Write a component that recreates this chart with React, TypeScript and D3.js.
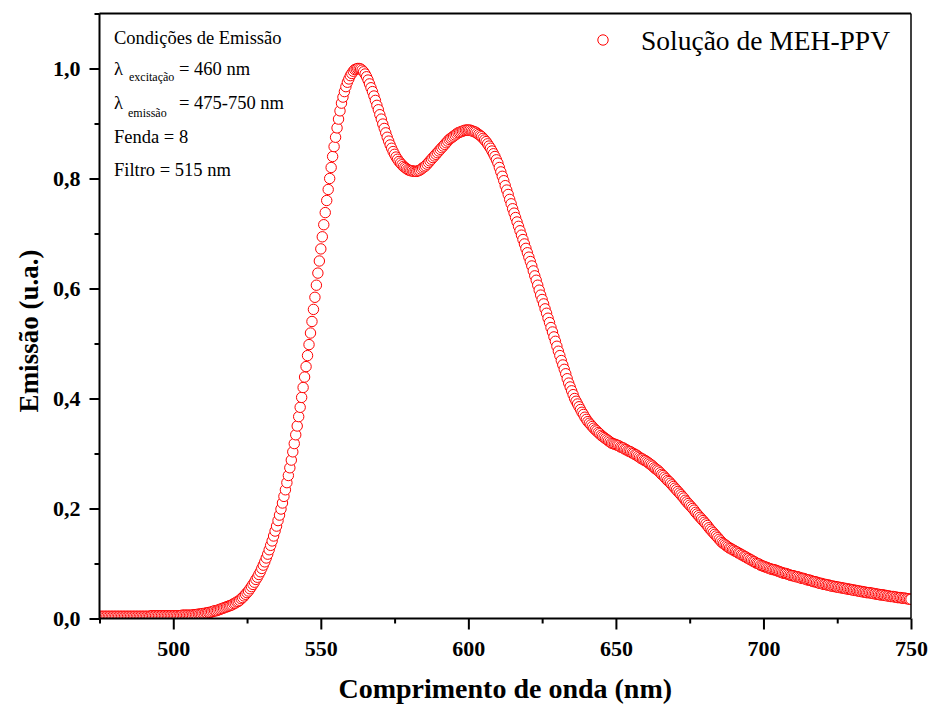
import React, { useEffect, useRef } from 'react';
import * as d3 from 'd3';

// espectro de emissão, 475-750 nm a cada 0,5 nm
const startNm = 475;
const stepNm = 0.5;
const emission = [
  0.004, 0.004, 0.004, 0.004, 0.004, 0.004, 0.004, 0.004, 0.004, 0.004,
  0.004, 0.004, 0.004, 0.004, 0.004, 0.004, 0.004, 0.004, 0.004, 0.004,
  0.004, 0.004, 0.004, 0.004, 0.004, 0.004, 0.004, 0.004, 0.004, 0.004,
  0.004, 0.004, 0.004, 0.004, 0.004, 0.005, 0.005, 0.005, 0.005, 0.005,
  0.005, 0.005, 0.005, 0.005, 0.005, 0.005, 0.005, 0.005, 0.005, 0.005,
  0.005, 0.005, 0.005, 0.005, 0.005, 0.005, 0.006, 0.006, 0.006, 0.006,
  0.006, 0.006, 0.006, 0.006, 0.007, 0.007, 0.007, 0.008, 0.008, 0.008,
  0.009, 0.009, 0.010, 0.010, 0.011, 0.011, 0.012, 0.013, 0.014, 0.014,
  0.015, 0.016, 0.017, 0.018, 0.019, 0.020, 0.021, 0.022, 0.023, 0.024,
  0.025, 0.027, 0.028, 0.030, 0.031, 0.033, 0.036, 0.038, 0.041, 0.044,
  0.047, 0.050, 0.054, 0.058, 0.062, 0.066, 0.071, 0.075, 0.080, 0.085,
  0.091, 0.097, 0.103, 0.110, 0.117, 0.125, 0.133, 0.141, 0.150, 0.159,
  0.168, 0.178, 0.188, 0.199, 0.210, 0.222, 0.234, 0.247, 0.260, 0.274,
  0.288, 0.303, 0.318, 0.334, 0.350, 0.367, 0.384, 0.402, 0.420, 0.439,
  0.458, 0.478, 0.498, 0.519, 0.540, 0.562, 0.584, 0.606, 0.628, 0.650,
  0.672, 0.694, 0.716, 0.738, 0.760, 0.780, 0.800, 0.820, 0.840, 0.858,
  0.875, 0.892, 0.908, 0.923, 0.937, 0.948, 0.958, 0.967, 0.975, 0.981,
  0.987, 0.991, 0.995, 0.998, 0.999, 1.000, 1.000, 0.999, 0.997, 0.994,
  0.990, 0.985, 0.979, 0.972, 0.965, 0.958, 0.950, 0.942, 0.933, 0.925,
  0.916, 0.908, 0.899, 0.891, 0.883, 0.875, 0.868, 0.861, 0.855, 0.849,
  0.844, 0.839, 0.835, 0.831, 0.828, 0.825, 0.822, 0.820, 0.818, 0.816,
  0.815, 0.814, 0.814, 0.813, 0.813, 0.813, 0.814, 0.815, 0.817, 0.819,
  0.821, 0.823, 0.826, 0.829, 0.832, 0.835, 0.838, 0.841, 0.844, 0.847,
  0.850, 0.853, 0.856, 0.859, 0.862, 0.865, 0.868, 0.871, 0.873, 0.875,
  0.877, 0.879, 0.881, 0.883, 0.884, 0.885, 0.886, 0.887, 0.888, 0.888,
  0.888, 0.888, 0.887, 0.886, 0.885, 0.884, 0.882, 0.880, 0.878, 0.876,
  0.873, 0.870, 0.867, 0.863, 0.859, 0.855, 0.850, 0.845, 0.840, 0.834,
  0.828, 0.820, 0.812, 0.804, 0.796, 0.787, 0.779, 0.771, 0.762, 0.754,
  0.745, 0.737, 0.729, 0.721, 0.713, 0.705, 0.697, 0.689, 0.681, 0.673,
  0.665, 0.657, 0.649, 0.641, 0.632, 0.623, 0.615, 0.606, 0.597, 0.588,
  0.580, 0.572, 0.563, 0.555, 0.546, 0.538, 0.529, 0.521, 0.512, 0.504,
  0.495, 0.486, 0.478, 0.469, 0.461, 0.453, 0.445, 0.436, 0.428, 0.421,
  0.414, 0.407, 0.400, 0.395, 0.390, 0.385, 0.380, 0.375, 0.371, 0.366,
  0.362, 0.358, 0.355, 0.352, 0.349, 0.346, 0.343, 0.341, 0.338, 0.336,
  0.333, 0.331, 0.329, 0.327, 0.325, 0.323, 0.321, 0.319, 0.318, 0.317,
  0.316, 0.315, 0.314, 0.312, 0.311, 0.310, 0.308, 0.307, 0.305, 0.304,
  0.303, 0.301, 0.300, 0.298, 0.297, 0.295, 0.293, 0.291, 0.290, 0.288,
  0.287, 0.285, 0.283, 0.281, 0.279, 0.277, 0.274, 0.272, 0.270, 0.268,
  0.265, 0.262, 0.260, 0.257, 0.254, 0.251, 0.249, 0.246, 0.243, 0.240,
  0.237, 0.234, 0.231, 0.228, 0.225, 0.222, 0.219, 0.215, 0.212, 0.209,
  0.206, 0.203, 0.200, 0.197, 0.193, 0.190, 0.187, 0.184, 0.181, 0.178,
  0.175, 0.172, 0.169, 0.165, 0.162, 0.159, 0.156, 0.153, 0.150, 0.147,
  0.144, 0.141, 0.138, 0.136, 0.134, 0.132, 0.130, 0.128, 0.127, 0.125,
  0.124, 0.122, 0.121, 0.119, 0.118, 0.116, 0.115, 0.113, 0.112, 0.110,
  0.109, 0.107, 0.106, 0.104, 0.103, 0.101, 0.100, 0.099, 0.097, 0.096,
  0.095, 0.094, 0.093, 0.092, 0.091, 0.090, 0.089, 0.089, 0.088, 0.087,
  0.086, 0.085, 0.084, 0.083, 0.082, 0.082, 0.081, 0.080, 0.079, 0.078,
  0.078, 0.077, 0.076, 0.076, 0.075, 0.074, 0.073, 0.073, 0.072, 0.071,
  0.070, 0.070, 0.069, 0.068, 0.067, 0.067, 0.066, 0.065, 0.064, 0.064,
  0.063, 0.062, 0.062, 0.061, 0.061, 0.060, 0.059, 0.059, 0.058, 0.058,
  0.057, 0.057, 0.056, 0.056, 0.055, 0.055, 0.054, 0.054, 0.053, 0.053,
  0.052, 0.052, 0.051, 0.051, 0.050, 0.050, 0.049, 0.049, 0.048, 0.048,
  0.047, 0.047, 0.047, 0.046, 0.046, 0.045, 0.045, 0.044, 0.044, 0.043,
  0.043, 0.043, 0.042, 0.042, 0.041, 0.041, 0.040, 0.040, 0.040, 0.039,
  0.039, 0.038, 0.038, 0.038, 0.037, 0.037, 0.037, 0.036, 0.036, 0.035,
  0.035,
];

const xDomain = [475, 750];
const yDomain = [0, 1.1];
const xMajorTicks = [500, 550, 600, 650, 700, 750];
const xMinorTicks = [475, 525, 575, 625, 675, 725];
const yMajorTicks = [0, 0.2, 0.4, 0.6, 0.8, 1.0];
const yMinorTicks = [0.1, 0.3, 0.5, 0.7, 0.9, 1.1];
const seriesName = 'Solução de MEH-PPV';
const xTitle = 'Comprimento de onda (nm)';
const yTitle = 'Emissão (u.a.)';

const App = () => {
  const ref = useRef<SVGSVGElement>(null);

  useEffect(() => {
    if (!ref.current) return;
    const W = 930, H = 706;
    const left = 99.5, right = 911, top = 13.5, bottom = 618.5;
    const font = '"Liberation Serif", "Times New Roman", serif';

    const svg = d3.select(ref.current);
    svg.selectAll('*').remove();
    svg.attr('width', W).attr('height', H);

    const data = emission.map((v, i) => ({ w: startNm + i * stepNm, v }));

    const x = d3.scaleLinear().domain(xDomain).range([left, right]);
    const y = d3.scaleLinear().domain(yDomain).range([bottom, top]);

    svg.append('defs').append('clipPath').attr('id', 'plot-clip')
      .append('rect')
      .attr('x', left).attr('y', top)
      .attr('width', right - left).attr('height', bottom - top);

    // pontos (círculos abertos)
    svg.append('g')
      .attr('clip-path', 'url(#plot-clip)')
      .selectAll('circle')
      .data(data)
      .join('circle')
      .attr('cx', d => x(d.w))
      .attr('cy', d => y(d.v))
      .attr('r', 5.2)
      .attr('fill', '#fff')
      .attr('stroke', '#ff0000')
      .attr('stroke-width', 1);

    // eixos
    const fmtY = (d: number) => d3.format('.1f')(d).replace('.', ',');

    const xAxis = svg.append('g')
      .attr('transform', `translate(0, ${bottom})`)
      .call(d3.axisBottom(x).tickValues(xMajorTicks).tickSize(11).tickSizeOuter(0)
        .tickPadding(11).tickFormat(d3.format('d')));
    svg.append('g')
      .attr('transform', `translate(0, ${bottom})`)
      .call(d3.axisBottom(x).tickValues(xMinorTicks).tickSize(5).tickSizeOuter(0)
        .tickFormat(() => ''));

    const yAxis = svg.append('g')
      .attr('transform', `translate(${left}, 0)`)
      .call(d3.axisLeft(y).tickValues(yMajorTicks).tickSize(10).tickSizeOuter(0)
        .tickPadding(9).tickFormat(d => fmtY(d as number)));
    svg.append('g')
      .attr('transform', `translate(${left}, 0)`)
      .call(d3.axisLeft(y).tickValues(yMinorTicks).tickSize(5).tickSizeOuter(0)
        .tickFormat(() => ''));

    svg.selectAll('.domain').remove();
    svg.selectAll('.tick line').attr('stroke', '#000').attr('stroke-width', 2);
    [xAxis, yAxis].forEach(g => g.selectAll('text')
      .attr('fill', '#000')
      .style('font-family', font)
      .style('font-weight', 'bold')
      .style('font-size', '22px'));

    // moldura
    const frame = svg.append('g').attr('stroke', '#000').attr('fill', 'none');
    frame.append('line').attr('x1', left).attr('x2', left).attr('y1', top).attr('y2', bottom).attr('stroke-width', 2);
    frame.append('line').attr('x1', left).attr('x2', right).attr('y1', bottom).attr('y2', bottom).attr('stroke-width', 2);
    frame.append('line').attr('x1', left).attr('x2', right).attr('y1', top).attr('y2', top).attr('stroke-width', 2);
    frame.append('line').attr('x1', right).attr('x2', right).attr('y1', top).attr('y2', bottom).attr('stroke-width', 1.5);

    // títulos
    svg.append('text')
      .attr('x', (left + right) / 2).attr('y', 698)
      .attr('text-anchor', 'middle')
      .style('font-family', font).style('font-weight', 'bold').style('font-size', '28px')
      .text(xTitle);

    svg.append('text')
      .attr('transform', `translate(38, 331) rotate(-90)`)
      .attr('text-anchor', 'middle')
      .style('font-family', font).style('font-weight', 'bold').style('font-size', '27px')
      .text(yTitle);

    // legenda
    svg.append('circle')
      .attr('cx', 603).attr('cy', 40).attr('r', 5.2)
      .attr('fill', '#fff').attr('stroke', '#ff0000').attr('stroke-width', 1);
    svg.append('text')
      .attr('x', 641).attr('y', 50)
      .style('font-family', font).style('font-size', '27.5px')
      .text(seriesName);

    // condições de emissão
    const note = svg.append('g')
      .style('font-family', font).style('font-size', '18.5px').attr('fill', '#000');
    note.append('text').attr('x', 114).attr('y', 44).text('Condições de Emissão');
    note.append('text').attr('x', 114).attr('y', 75).text('λ');
    note.append('text').attr('x', 129).attr('y', 81).style('font-size', '12px').text('excitação');
    note.append('text').attr('x', 179).attr('y', 75).text('= 460 nm');
    note.append('text').attr('x', 114).attr('y', 109).text('λ');
    note.append('text').attr('x', 128).attr('y', 117).style('font-size', '12px').text('emissão');
    note.append('text').attr('x', 179).attr('y', 109).text('= 475-750 nm');
    note.append('text').attr('x', 114).attr('y', 143).text('Fenda = 8');
    note.append('text').attr('x', 114).attr('y', 176).text('Filtro = 515 nm');
  }, []);

  return (
    <svg ref={ref} style={{ position: 'absolute', left: 0, top: 0, background: '#fff' }} />
  );
};

export default App;
